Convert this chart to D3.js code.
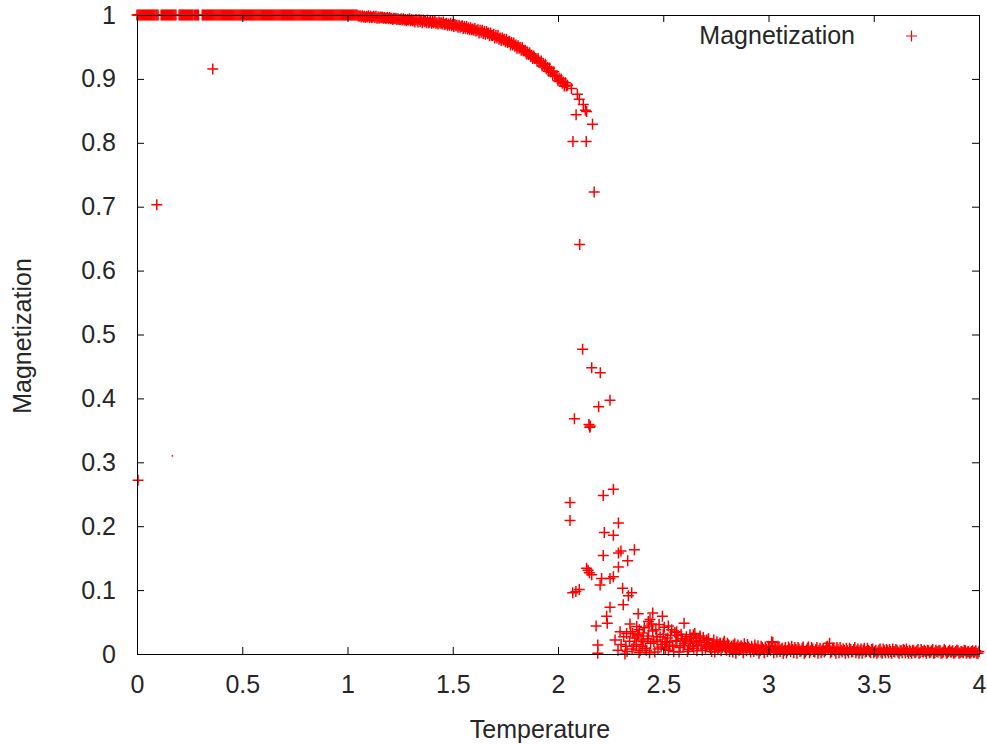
<!DOCTYPE html>
<html>
<head>
<meta charset="utf-8">
<script src="https://cdnjs.cloudflare.com/ajax/libs/d3/7.8.5/d3.min.js"></script>
<style>
  body { margin: 0; background: #fff; }
  svg text { font-family: "Liberation Sans", Arial, sans-serif; font-size: 25px; fill: #262626; }
</style>
</head>
<body>
<svg width="987" height="744"></svg>
<script>
// [temperature, magnetization]
var lowTempOutliers = [[.005,.272],[.094,.703],[.36,.9155]];
var strayDots = [[.168,.31]];

var plateauPoints = [
  [0,1],[.005,1],[.01,1],[.015,1],[.02,1],[.025,1],[.03,1],[.035,1],[.04,1],[.045,1],[.05,1],
  [.055,1],[.06,1],[.065,1],[.07,1],[.075,1],[.08,1],[.085,1],[.09,1],[.095,1],[.1,1],
  [.115,1],[.12,1],[.125,1],[.13,1],[.135,1],[.14,1],[.145,1],[.15,1],[.155,1],[.16,1],
  [.165,1],[.17,1],[.175,1],[.18,1],[.185,1],
  [.2,1],[.205,1],[.21,1],[.215,1],[.22,1],[.225,1],[.23,1],[.235,1],[.24,1],[.245,1],
  [.25,1],[.255,1],[.26,1],[.265,1],
  [.272,1],[.277,1],[.282,1],[.287,1],[.292,1],
  [.31,1],[.315,1],[.32,1],[.325,1],[.33,1],[.335,1],[.34,1],[.345,1],[.35,1],[.355,1],[.36,1],[.365,1],[.37,1],[.375,1],[.38,1],
  [.385,1],[.39,1],[.395,1],[.4,1],[.405,1],[.41,1],[.415,1],[.42,1],[.425,1],[.43,1],
  [.435,1],[.44,1],[.445,1],[.45,1],[.455,1],[.46,1],[.465,1],[.47,1],[.475,1],[.48,1],
  [.485,1],[.49,1],[.495,1],[.5,1],[.505,1],[.51,1],[.515,1],[.52,1],[.525,1],[.53,1],
  [.535,1],[.54,1],[.545,1],[.55,1],[.555,1],[.56,1],[.565,1],[.57,1],[.575,1],[.58,1],
  [.585,1],[.59,1],[.595,1],[.6,1],[.605,1],[.61,1],[.615,1],[.62,1],[.625,1],[.63,1],
  [.635,1],[.64,1],[.645,1],[.65,1],[.655,1],[.66,1],[.665,1],[.67,1],[.675,1],[.68,1],
  [.685,1],[.69,1],[.695,1],[.7,1],[.705,1],[.71,1],[.715,1],[.72,1],[.725,1],[.73,1],
  [.735,1],[.74,1],[.745,1],[.75,1],[.755,1],[.76,1],[.765,1],[.77,1],[.775,1],[.78,1],
  [.785,1],[.79,1],[.795,1],[.8,1],[.805,1],[.81,1],[.815,1],[.82,1],[.825,1],[.83,1],
  [.835,1],[.84,1],[.845,1],[.85,1],[.855,1],[.86,1],[.865,1],[.87,1],[.875,1],[.88,1],
  [.885,1],[.89,1],[.895,1],[.9,1],[.905,1],[.91,1],[.915,1],[.92,1],[.925,1],[.93,1],
  [.935,1],[.94,1],[.945,1],[.95,1],[.955,1],[.96,1],[.965,1],[.97,1],[.975,1],[.98,1],
  [.985,1],[.99,1],[.995,1],[1,1],[1.005,1],[1.01,1],[1.015,1],[1.02,1],[1.025,1],[1.03,1],
  [1.035,1],[1.04,1],[1.045,1],[1.05,.999]
];

var curvePoints = [
  [1.055,.998],[1.06,.999],[1.065,.997],[1.07,.999],[1.075,.997],[1.08,.998],[1.085,.996],[1.09,.998],[1.095,.997],[1.1,.999],
  [1.105,.996],[1.11,.998],[1.115,.996],[1.12,.997],[1.125,.998],[1.13,.996],[1.135,.998],[1.14,.995],[1.145,.997],[1.15,.995],
  [1.155,.997],[1.16,.996],[1.165,.997],[1.17,.995],[1.175,.996],[1.18,.995],[1.185,.995],[1.19,.996],[1.195,.994],[1.2,.996],
  [1.205,.994],[1.21,.995],[1.215,.993],[1.22,.995],[1.225,.994],[1.23,.995],[1.235,.993],[1.24,.994],[1.245,.993],[1.25,.993],
  [1.255,.994],[1.26,.992],[1.265,.994],[1.27,.992],[1.275,.993],[1.28,.991],[1.285,.993],[1.29,.992],[1.295,.994],[1.3,.991],
  [1.305,.993],[1.31,.991],[1.315,.992],[1.32,.989],[1.325,.993],[1.33,.992],[1.335,.989],[1.34,.993],[1.345,.99],[1.35,.992],
  [1.355,.988],[1.36,.992],[1.365,.99],[1.37,.991],[1.375,.988],[1.38,.992],[1.385,.988],[1.39,.989],[1.395,.991],[1.4,.987],
  [1.405,.99],[1.41,.988],[1.415,.99],[1.42,.987],[1.425,.988],[1.43,.986],[1.435,.989],[1.44,.987],[1.445,.988],[1.45,.986],
  [1.455,.989],[1.46,.985],[1.465,.986],[1.47,.987],[1.475,.984],[1.48,.986],[1.485,.984],[1.49,.987],[1.495,.983],[1.5,.985],
  [1.505,.982],[1.51,.985],[1.515,.983],[1.52,.984],[1.525,.981],[1.53,.984],[1.535,.981],[1.54,.982],[1.545,.983],[1.55,.979],
  [1.555,.982],[1.56,.979],[1.565,.982],[1.57,.978],[1.575,.98],[1.58,.977],[1.585,.98],[1.59,.977],[1.595,.978],[1.6,.976],
  [1.605,.979],[1.61,.975],[1.615,.976],[1.62,.977],[1.625,.972],[1.63,.976],[1.635,.973],[1.64,.976],[1.645,.971],[1.65,.974],
  [1.655,.97],[1.66,.974],[1.665,.971],[1.67,.972],[1.675,.968],[1.68,.972],[1.685,.968],[1.69,.968],[1.695,.97],[1.7,.964],
  [1.705,.968],[1.71,.964],[1.715,.968],[1.72,.962],[1.725,.964],[1.73,.96],[1.735,.964],[1.74,.961],[1.745,.962],[1.75,.958],
  [1.755,.962],[1.76,.957],[1.765,.958],[1.77,.959],[1.775,.953],[1.78,.957],[1.785,.953],[1.79,.956],[1.795,.951],[1.8,.953],
  [1.805,.948],[1.81,.952],[1.815,.948],[1.82,.949],[1.825,.945],[1.83,.949],[1.835,.944],[1.84,.944],[1.845,.945],[1.85,.939],
  [1.855,.942],[1.86,.938],[1.865,.941],[1.87,.935],[1.875,.937],[1.88,.932],[1.885,.936],[1.89,.932],[1.895,.932],[1.9,.928],
  [1.905,.932],[1.91,.926],[1.915,.926],[1.92,.928],[1.925,.92],[1.93,.924],[1.935,.919],[1.94,.923],[1.945,.916],[1.95,.918],
  [1.955,.912],[1.96,.917],[1.965,.911],[1.97,.912],[1.975,.906],[1.98,.911],[1.985,.904],[1.99,.904],[1.995,.905],[2,.897],
  [2.005,.901],[2.01,.896],[2.015,.9],[2.02,.893],[2.025,.895],[2.03,.889],[2.035,.894],[2.04,.889],[2.045,.89]
];

var criticalPoints = [
  [2.064,.885],[2.092,.876],[2.101,.868],[2.12,.86],[2.13,.851],[2.136,.849],[2.086,.844],[2.164,.829],
  [2.071,.802],[2.134,.802],[2.172,.723],[2.103,.641],
  [2.117,.477],[2.16,.448],[2.201,.44],[2.247,.397],[2.193,.387],[2.078,.368],[2.147,.359],[2.151,.355],[2.153,.357],
  [2.263,.258],[2.215,.248],[2.057,.237],[2.057,.209],[2.287,.205],[2.22,.19],[2.263,.186],
  [2.363,.163],[2.215,.154],[2.287,.158],[2.299,.161],[2.331,.146],[2.287,.136],
  [2.136,.134],[2.143,.131],[2.149,.127],[2.16,.124],[2.207,.118],[2.247,.118],[2.2,.108],[2.263,.121],
  [2.07,.096],[2.085,.098],[2.101,.101],[2.307,.103],[2.35,.096],[2.334,.091],[2.31,.077],[2.247,.073],
  [2.231,.059],[2.234,.048],[2.181,.044],[2.381,.063],[2.45,.064],[2.496,.059],[2.429,.051],[2.342,.047],
  [2.386,.038],[2.524,.044],[2.599,.048],[2.564,.035],[2.295,.035],[2.271,.022],[2.189,.014],[2.189,.001],
  [2.318,0],[2.355,.032],[2.374,.043],[2.437,.054],[2.432,.044],[2.326,.032],[2.381,.03],[2.405,.019],
  [2.469,.027],[2.508,.019],[2.627,.03],[2.659,.019],[2.706,.022],[2.754,.014],[2.785,.017],
  [2.643,.03],[2.675,.025],[2.714,.022],[2.77,.017],[2.833,.014],[2.865,.011],
  [2.322,.012],[2.34,.02],[2.352,.008],[2.365,.025],[2.372,.015],[2.39,.005],[2.395,.022],
  [2.285,.006],[2.3,.015],[2.312,.027],[2.328,.004],[2.345,.035],[2.36,.012],[2.378,.028],[2.385,.002]
];

var tailPoints = [
  [2.4,.012],[2.41,.041],[2.42,.006],[2.43,.028],[2.44,.017],[2.45,.036],[2.46,.003],[2.47,.022],[2.48,.046],[2.49,.011],
  [2.5,.031],[2.51,.008],[2.52,.025],[2.53,.014],[2.54,.038],[2.55,.004],[2.56,.02],[2.57,.029],[2.58,.01],[2.59,.024],
  [2.6,.016],[2.61,.027],[2.62,.007],[2.63,.019],[2.64,.012],[2.65,.032],[2.66,.005],[2.67,.021],[2.68,.014],[2.69,.026],
  [2.7,.009],[2.71,.018],[2.72,.011],[2.73,.004],[2.74,.022],[2.75,.013],[2.76,.007],[2.77,.017],[2.78,.01],[2.79,.02],
  [2.8,.006],[2.81,.014],[2.82,.009],[2.83,.003],[2.84,.016],[2.85,.011],[2.86,.006],[2.87,.013],[2.88,.002],[2.89,.01],
  [2.9,.015],[2.91,.007],[2.92,.012],[2.93,.004],[2.94,.009],[2.95,.013],[2.96,.005],[2.97,.01],[2.98,.002],[2.99,.008],
  [3,.012],[3.01,.006],[3.02,.018],[3.03,.009],[3.04,.003],[3.05,.011],[3.06,.007],[3.07,.001],[3.08,.01],[3.09,.005],
  [3.1,.008],[3.11,.012],[3.12,.002],[3.13,.007],[3.14,.01],[3.15,.004],[3.16,.009],[3.17,.001],[3.18,.006],[3.19,.011],
  [3.2,.005],[3.21,.008],[3.22,.003],[3.23,.01],[3.24,.006],[3.25,.002],[3.26,.009],[3.27,.005],[3.28,.012],[3.29,.017],
  [3.3,.004],[3.31,.008],[3.32,.001],[3.33,.007],[3.34,.01],[3.35,.003],[3.36,.006],[3.37,.009],[3.38,.002],[3.39,.007],
  [3.4,.004],[3.41,.01],[3.42,.005],[3.43,.001],[3.44,.008],[3.45,.006],[3.46,.003],[3.47,.009],[3.48,.004],[3.49,.007],
  [3.5,.002],[3.51,.006],[3.52,.003],[3.53,.008],[3.54,.001],[3.55,.005],[3.56,.007],[3.57,.002],[3.58,.004],[3.59,.008],
  [3.6,.003],[3.61,.006],[3.62,.001],[3.63,.005],[3.64,.007],[3.65,.002],[3.66,.004],[3.67,.006],[3.68,.001],[3.69,.005],
  [3.7,.003],[3.71,.007],[3.72,.002],[3.73,.004],[3.74,.006],[3.75,.001],[3.76,.005],[3.77,.003],[3.78,.007],[3.79,.002],
  [3.8,.004],[3.81,.006],[3.82,.001],[3.83,.003],[3.84,.005],[3.85,.002],[3.86,.006],[3.87,.003],[3.88,.001],[3.89,.004],
  [3.9,.005],[3.91,.002],[3.92,.003],[3.93,.006],[3.94,.001],[3.95,.004],[3.96,.002],[3.97,.005],[3.98,.003],[3.99,.001],
  [4,.004]
];

// second sweep through the disordered phase, between the first one's temperatures
var tailPointsB = [
  [2.405,.033],[2.415,.009],[2.425,.024],[2.435,.002],[2.445,.047],[2.455,.019],[2.465,.038],[2.475,.008],[2.485,.027],[2.495,.015],
  [2.505,.042],[2.515,.018],[2.525,.006],[2.535,.029],[2.545,.012],[2.555,.034],[2.565,.021],[2.575,.003],[2.585,.031],[2.595,.013],
  [2.605,.022],[2.615,.004],[2.625,.017],[2.635,.025],[2.645,.009],[2.655,.02],[2.665,.013],[2.675,.028],[2.685,.006],[2.695,.018],
  [2.705,.012],[2.715,.024],[2.725,.008],[2.735,.016],[2.745,.003],[2.755,.019],[2.765,.011],[2.775,.005],[2.785,.014],[2.795,.009],
  [2.805,.017],[2.815,.004],[2.825,.012],[2.835,.008],[2.845,.001],[2.855,.014],[2.865,.007],[2.875,.01],[2.885,.016],[2.895,.005],
  [2.905,.011],[2.915,.003],[2.925,.008],[2.935,.014],[2.945,.006],[2.955,.001],[2.965,.012],[2.975,.007],[2.985,.011],[2.995,.004],
  [3.005,.009],[3.015,.019],[3.025,.002],[3.035,.008],[3.045,.012],[3.055,.004],[3.065,.009],[3.075,.006],[3.085,.002],[3.095,.011],
  [3.105,.004],[3.115,.007],[3.125,.01],[3.135,.001],[3.145,.008],[3.155,.005],[3.165,.011],[3.175,.003],[3.185,.009],[3.195,.002],
  [3.205,.01],[3.215,.004],[3.225,.007],[3.235,.001],[3.245,.009],[3.255,.006],[3.265,.003],[3.275,.011],[3.285,.007],[3.295,.002],
  [3.305,.009],[3.315,.005],[3.325,.01],[3.335,.002],[3.345,.006],[3.355,.008],[3.365,.001],[3.375,.005],[3.385,.009],[3.395,.003],
  [3.405,.007],[3.415,.002],[3.425,.008],[3.435,.005],[3.445,.001],[3.455,.009],[3.465,.004],[3.475,.006],[3.485,.002],[3.495,.008],
  [3.505,.004],[3.515,.001],[3.525,.006],[3.535,.003],[3.545,.008],[3.555,.002],[3.565,.005],[3.575,.007],[3.585,.001],[3.595,.004],
  [3.605,.007],[3.615,.003],[3.625,.005],[3.635,.002],[3.645,.006],[3.655,.008],[3.665,.001],[3.675,.004],[3.685,.006],[3.695,.002],
  [3.705,.005],[3.715,.001],[3.725,.007],[3.735,.003],[3.745,.004],[3.755,.006],[3.765,.002],[3.775,.005],[3.785,.001],[3.795,.006],
  [3.805,.003],[3.815,.005],[3.825,.002],[3.835,.007],[3.845,.001],[3.855,.004],[3.865,.003],[3.875,.005],[3.885,.002],[3.895,.006],
  [3.905,.001],[3.915,.004],[3.925,.002],[3.935,.005],[3.945,.003],[3.955,.001],[3.965,.004],[3.975,.002],[3.985,.005],[3.995,.001]
];

var xTicks = [0, 0.5, 1, 1.5, 2, 2.5, 3, 3.5, 4];
var yTicks = [0, 0.1, 0.2, 0.3, 0.4, 0.5, 0.6, 0.7, 0.8, 0.9, 1];
var seriesName = "Magnetization";

var svg = d3.select("svg"),
    margin = {top: 15, right: 8, bottom: 90, left: 137},
    width = +svg.attr("width") - margin.left - margin.right,
    height = +svg.attr("height") - margin.top - margin.bottom,
    g = svg.append("g").attr("transform", "translate(" + margin.left + "," + margin.top + ")");

var x = d3.scaleLinear().domain([0, 4]).range([0, width]);
var y = d3.scaleLinear().domain([0, 1]).range([height, 0]);

var plus = "M-5.5,0H5.5M0,-5.5V5.5";
var red = "#ff0000";

var allPoints = lowTempOutliers.concat(plateauPoints, curvePoints, criticalPoints, tailPoints, tailPointsB);

// points first, gnuplot puts the border in front
g.append("g")
    .attr("class", "points")
  .selectAll("path")
    .data(allPoints)
  .enter().append("path")
    .attr("d", plus)
    .attr("transform", function(d) { return "translate(" + x(d[0]) + "," + y(d[1]) + ")"; })
    .attr("fill", "none")
    .attr("stroke", red)
    .attr("stroke-width", 1.5);

g.selectAll("rect.dot")
    .data(strayDots)
  .enter().append("rect")
    .attr("class", "dot")
    .attr("x", function(d) { return x(d[0]) - 0.75; })
    .attr("y", function(d) { return y(d[1]) - 0.75; })
    .attr("width", 1.5)
    .attr("height", 1.5)
    .attr("fill", red);

// axes, ticks pointing inward and mirrored
g.append("g")
    .attr("transform", "translate(0," + height + ")")
    .call(d3.axisBottom(x).tickValues(xTicks).tickFormat(function(d) { return String(d); })
        .tickSize(-7).tickSizeOuter(0).tickPadding(21));

g.append("g")
    .call(d3.axisLeft(y).tickValues(yTicks).tickFormat(function(d) { return String(d); })
        .tickSize(-7).tickSizeOuter(0).tickPadding(21));

g.append("g")
    .call(d3.axisTop(x).tickValues(xTicks).tickFormat("").tickSize(-7).tickSizeOuter(0));

g.append("g")
    .attr("transform", "translate(" + width + ",0)")
    .call(d3.axisRight(y).tickValues(yTicks).tickFormat("").tickSize(-7).tickSizeOuter(0));

g.selectAll(".domain, .tick line").attr("stroke", "#000").attr("stroke-width", 1);
g.selectAll(".tick text").attr("fill", "#262626").style("font-size", "25px")
    .attr("font-family", null);

// axis titles
svg.append("text")
    .attr("x", 540)
    .attr("y", 738)
    .style("text-anchor", "middle")
    .text("Temperature");

svg.append("text")
    .attr("transform", "translate(31," + 336 + ") rotate(-90)")
    .style("text-anchor", "middle")
    .text("Magnetization");

// key
var key = svg.append("g").attr("class", "key");
key.append("text")
    .attr("x", 855)
    .attr("y", 44)
    .style("text-anchor", "end")
    .text(seriesName);
key.append("path")
    .attr("d", plus)
    .attr("transform", "translate(911.5,36)")
    .attr("fill", "none")
    .attr("stroke", red)
    .attr("stroke-width", 1.2);
</script>
</body>
</html>
